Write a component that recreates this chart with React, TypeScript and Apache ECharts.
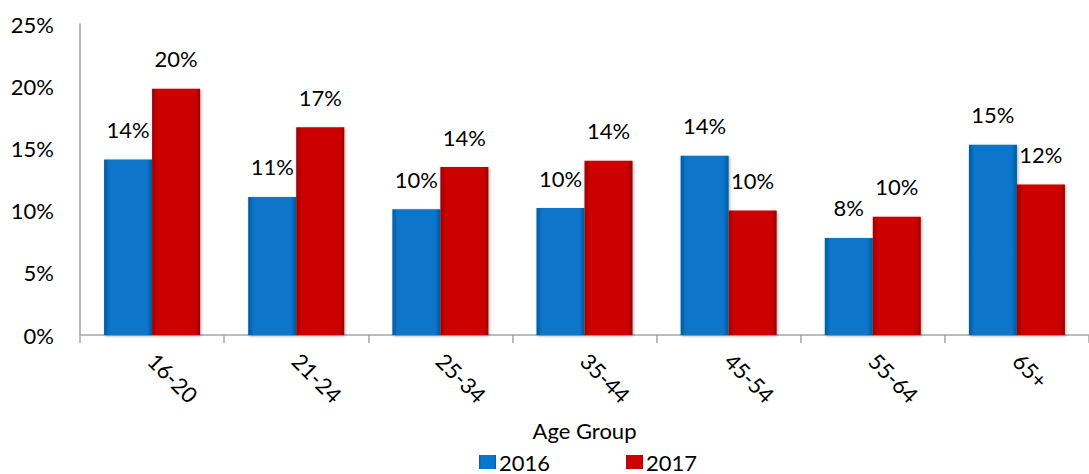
import React, { useEffect, useRef } from "react";
import * as echarts from "echarts";

const categories = ["16-20", "21-24", "25-34", "35-44", "45-54", "55-64", "65+"];
const values2016 = [14.1, 11.1, 10.1, 10.2, 14.4, 7.8, 15.3];
const values2017 = [19.8, 16.7, 13.5, 14.0, 10.0, 9.5, 12.1];
const seriesNames = ["2016", "2017"];
const yTicks = { min: 0, max: 25, interval: 5 };

const FONT = "Lato, 'Noto Sans', sans-serif";

function barGradient(edge: string, mid: string) {
  return new echarts.graphic.LinearGradient(0, 0, 1, 0, [
    { offset: 0, color: edge },
    { offset: 0.12, color: mid },
    { offset: 0.88, color: mid },
    { offset: 1, color: edge },
  ]);
}

export default function App() {
  const ref = useRef<HTMLDivElement>(null);
  useEffect(() => {
    if (!ref.current) return;
    const chart = echarts.init(ref.current, null, { renderer: "svg" });
    const labelCfg = {
      show: true,
      position: "top" as const,
      distance: 19,
      color: "#000",
      fontSize: 22,
      fontFamily: FONT,
      formatter: (p: any) => Math.round(p.value) + "%",
    };
    chart.setOption({
      animation: false,
      textStyle: { fontFamily: FONT },
      grid: { left: 80, top: 24, width: 1020, height: 311, containLabel: false },
      legend: {
        data: seriesNames,
        bottom: 1,
        left: 479,
        padding: 0,
        itemWidth: 17,
        itemHeight: 14,
        itemGap: 76,
        icon: "rect",
        textStyle: { fontSize: 22, lineHeight: 22, color: "#000", fontFamily: FONT, padding: [0, 0, 0, -2] },
      },
      xAxis: {
        type: "category",
        data: categories,
        name: "Age Group",
        nameLocation: "middle",
        nameGap: 84,
        nameTextStyle: { fontSize: 22, color: "#000", fontFamily: FONT },
        axisLine: { show: true, lineStyle: { color: "#a6a6a6", width: 1.5 } },
        axisTick: { show: true, length: 8, lineStyle: { color: "#a6a6a6", width: 1.5 } },
        axisLabel: { rotate: -45, fontSize: 22, color: "#000", fontFamily: FONT, margin: 22 },
      },
      yAxis: {
        type: "value",
        min: yTicks.min,
        max: yTicks.max,
        interval: yTicks.interval,
        axisLine: { show: true, lineStyle: { color: "#a6a6a6", width: 1.5 } },
        axisTick: { show: false },
        splitLine: { show: false },
        axisLabel: { formatter: "{value}%", fontSize: 22, color: "#000", fontFamily: FONT, margin: 26 },
      },
      series: [
        {
          name: seriesNames[0],
          type: "bar",
          data: values2016,
          barWidth: 48,
          barGap: "0%",
          itemStyle: {
            color: barGradient("#045da0", "#0876cb"),
            shadowColor: "rgba(0,0,0,0.35)",
            shadowBlur: 3,
            shadowOffsetX: 1,
            shadowOffsetY: 1,
          },
          label: labelCfg,
        },
        {
          name: seriesNames[1],
          type: "bar",
          data: values2017,
          barWidth: 48,
          barGap: "0%",
          itemStyle: {
            color: barGradient("#a00000", "#cc0202"),
            shadowColor: "rgba(0,0,0,0.35)",
            shadowBlur: 3,
            shadowOffsetX: 1,
            shadowOffsetY: 1,
          },
          label: labelCfg,
        },
      ],
    });
    return () => chart.dispose();
  }, []);
  return (
    <div
      ref={ref}
      style={{ position: "absolute", left: 0, top: 0, width: 1089, height: 474 }}
    />
  );
}
